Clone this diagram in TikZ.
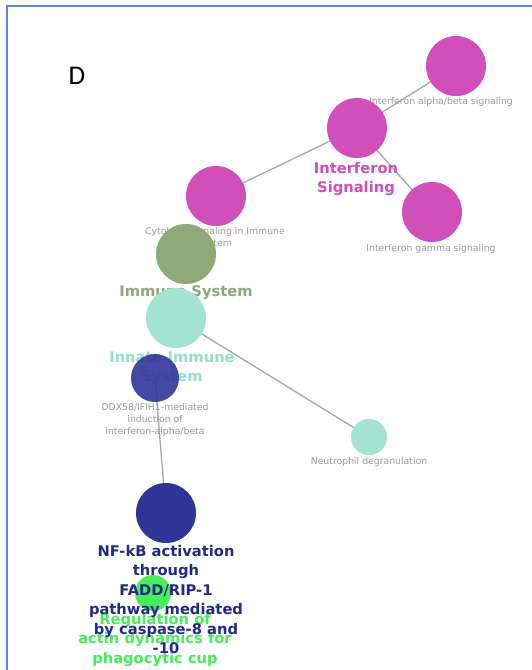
\documentclass[tikz,border=0pt]{standalone}
\usepackage{fontspec}
\setmainfont{DejaVu Sans}
\newfontfamily\letterfont{Carlito}
\definecolor{mag}{HTML}{D04FB8}
\definecolor{imm}{HTML}{8DAA78}
\definecolor{innate}{HTML}{A3E3D2}
\definecolor{innatetxt}{HTML}{93E0CC}
\definecolor{dblue}{HTML}{2E3599}
\definecolor{dbluetxt}{HTML}{232A85}
\definecolor{bgreen}{HTML}{48EE5A}
\definecolor{gtxt}{HTML}{9A9A9A}
\definecolor{edgec}{HTML}{A8A8A8}
\definecolor{frame}{HTML}{5B8BD0}
\begin{document}
\begin{tikzpicture}[x=1pt,y=-1pt,
  pnode/.style={circle,inner sep=0pt,draw=none},
  edge/.style={draw=edgec,line width=1.3pt},
  small/.style={text=gtxt,font=\fontsize{9.3}{11.8}\selectfont,align=center,inner sep=0pt},
  big/.style={font=\bfseries\fontsize{14.7}{19.5}\selectfont,align=center,inner sep=0pt}]
\useasboundingbox (0,0) rectangle (532,670);
\fill[white] (0,0) rectangle (532,670);
\begin{scope}
\clip (0,0) rectangle (532,665);
% frame
\node[font=\letterfont\fontsize{27}{30}\selectfont,inner sep=0pt] (lab) at (77,76) {D};
% nodes positions
\coordinate (pab) at (456,66);
\coordinate (pis) at (357,128);
\coordinate (pig) at (432,212);
\coordinate (pcs) at (216,196);
\coordinate (pim) at (186,254);
\coordinate (pin) at (176,318);
\coordinate (pdd) at (155,378);
\coordinate (pne) at (369,437);
\coordinate (pnf) at (166,513);
\coordinate (pre) at (153,593);
% edges
\draw[edge] (pab) -- (pis);
\draw[edge] (pis) -- (pcs);
\draw[edge] (pis) -- (pig);
\draw[edge] (pin) -- (pne);
\draw[edge] (pdd) -- (pnf);
% nodes
\node[pnode,fill=mag,minimum size=60pt] (ab) at (pab) {};
\node[small] (tab) at (441,102) {Interferon alpha/beta signaling};
\node[pnode,fill=mag,minimum size=60pt] (is) at (pis) {};
\node[big,text=mag] (tis) at (356,179) {Interferon\\Signaling};
\node[pnode,fill=mag,minimum size=60pt] (ig) at (pig) {};
\node[small] (tig) at (431,249) {Interferon gamma signaling};
\node[pnode,fill=mag,minimum size=60pt] (cs) at (pcs) {};
\node[small] (tcs) at (215,238) {Cytokine Signaling in Immune\\system};
\node[pnode,fill=imm,minimum size=60pt] (im) at (pim) {};
\node[big,text=imm] (tim) at (186,293) {Immune System};
\node[pnode,fill=innate,minimum size=60pt] (in) at (pin) {};
\node[big,text=innatetxt] (tin) at (172,368) {Innate Immune\\System};
\node[pnode,fill=dblue,minimum size=48pt,opacity=0.9] (dd) at (pdd) {};
\node[small] (tdd) at (155,420) {DDX58/IFIH1-mediated\\induction of\\interferon-alpha/beta};
\node[pnode,fill=innate,minimum size=36pt] (ne) at (pne) {};
\node[small] (tne) at (369,462) {Neutrophil degranulation};
\node[pnode,fill=dblue,minimum size=60pt] (nf) at (pnf) {};
\node[pnode,fill=bgreen,minimum size=36pt] (re) at (pre) {};
\node[big,text=bgreen,anchor=north] (tre) at (155,613) {Regulation of\\actin dynamics for\\phagocytic cup};
\node[big,text=dbluetxt,anchor=north] (tnf) at (166,545) {NF-kB activation\\through\\FADD/RIP-1\\pathway mediated\\by caspase-8 and\\-10};
\end{scope}
\draw[frame,line width=2pt] (7,670) -- (7,6) -- (532,6);
\end{tikzpicture}
\end{document}
